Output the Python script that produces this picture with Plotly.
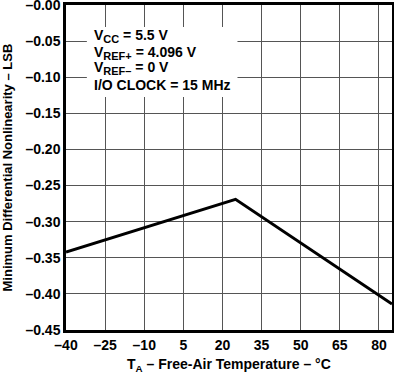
import plotly.graph_objects as go

temps = [-40, 25, 85]
dnl_min = [-0.342, -0.269, -0.414]

x_ticks = [-40, -25, -10, 5, 20, 35, 50, 65, 80]
x_labels = ["–40", "–25", "–10", "5", "20", "35", "50", "65", "80"]
y_ticks = [0.0, -0.05, -0.10, -0.15, -0.20, -0.25, -0.30, -0.35, -0.40, -0.45]
y_labels = ["–0.00", "–0.05", "–0.10", "–0.15", "–0.20", "–0.25", "–0.30", "–0.35", "–0.40", "–0.45"]

cond_lines = [
    "V<sub><span style='font-size:11px'>CC</span></sub> = 5.5 V",
    "V<sub><span style='font-size:11px'>REF+</span></sub> = 4.096 V",
    "V<sub><span style='font-size:11px'>REF–</span></sub> = 0 V",
    "I/O CLOCK = 15 MHz",
]

FONT = "Liberation Sans, Arial, sans-serif"
TF = dict(family=FONT, size=14, color="black", weight="bold")

fig = go.Figure()
fig.add_trace(go.Scatter(x=temps, y=dnl_min, mode="lines",
                         line=dict(color="black", width=3), showlegend=False))

fig.update_layout(
    width=394, height=374,
    margin=dict(l=66, r=2, t=5, b=44),
    paper_bgcolor="white", plot_bgcolor="white",
    font=dict(family=FONT, size=14, color="black"),
)
fig.update_xaxes(
    range=[-40, 85], tickvals=x_ticks, ticktext=x_labels,
    showgrid=True, gridcolor="#555", gridwidth=1,
    showline=True, linecolor="black", linewidth=2.5, mirror=True,
    ticks="", zeroline=False, automargin=False, ticklabeloverflow="allow",
    tickfont=TF,
)
fig.update_yaxes(
    range=[-0.45, 0.0], tickvals=y_ticks, ticktext=y_labels,
    showgrid=True, gridcolor="#555", gridwidth=1,
    showline=True, linecolor="black", linewidth=2.5, mirror=True,
    ticks="", zeroline=False, automargin=False, ticklabeloverflow="allow",
    tickfont=TF,
)
fig.add_annotation(
    xref="paper", yref="paper", x=0.5, y=-0.075, xanchor="center", yanchor="top",
    text="T<sub>A</sub> – Free-Air Temperature – °C", showarrow=False, font=TF,
)
fig.add_annotation(
    xref="paper", yref="paper", x=-0.178, y=0.5, xanchor="center", yanchor="middle",
    text="Minimum Differential Nonlinearity – LSB", textangle=-90, showarrow=False,
    font=dict(family=FONT, size=13, color="black", weight="bold"),
)
# white box behind the test conditions
fig.add_shape(type="rect", xref="paper", yref="paper",
              x0=0.064, x1=0.526, y0=0.717, y1=0.932,
              fillcolor="white", line=dict(width=0), layer="above")
cap_centers_px = [34.5, 51.5, 66.5, 83.0]
for txt, yc in zip(cond_lines, cap_centers_px):
    fig.add_annotation(
        xref="paper", yref="paper", x=(92 - 66) / 327, y=1 - (yc + 1.5 - 5) / 325,
        xanchor="left", yanchor="middle", text=txt, align="left", showarrow=False,
        font=dict(family=FONT, size=14, color="black", weight="bold"),
    )
fig.write_html("out.html", config={"displayModeBar": False},
               post_script="document.body.style.margin='0';")
